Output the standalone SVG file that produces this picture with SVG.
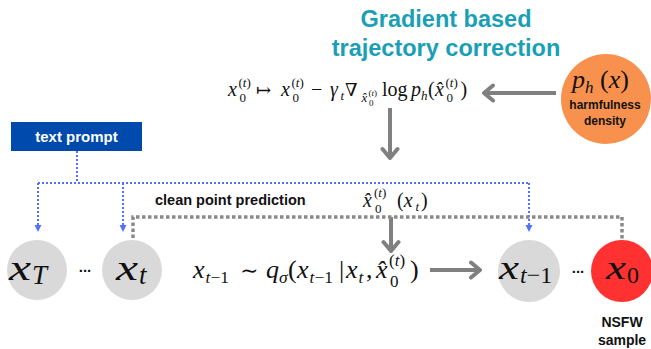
<svg xmlns="http://www.w3.org/2000/svg" width="651" height="349" viewBox="0 0 651 349">
<defs>
<style>
.mi{font-family:"Liberation Serif","Times New Roman",serif;font-style:italic;fill:#111}
.mu{font-family:"Liberation Serif","Times New Roman",serif;fill:#111}
.sym{font-family:"DejaVu Serif",serif;fill:#111}
.lb{font-family:"Liberation Sans",Arial,sans-serif;font-weight:bold}
.title{font-family:"Liberation Sans",Arial,sans-serif;font-weight:bold;font-size:23.5px;fill:#1a9fb6;text-anchor:middle}
.gray{fill:#d9d9d9}
.ga{fill:none;stroke:#808080;stroke-width:4}
.bd{fill:none;stroke:#5271ff;stroke-width:2;stroke-dasharray:2 2}
.gd{fill:none;stroke:#8a8a8a;stroke-width:3.5;stroke-dasharray:3.5 2.5}
</style>
<marker id="gh" markerUnits="userSpaceOnUse" viewBox="-13 -10 16 20" refX="0" refY="0" markerWidth="16" markerHeight="20" orient="auto">
<path d="M-9,-7.5 L0,0 L-9,7.5" fill="none" stroke="#808080" stroke-width="4" stroke-linecap="round" stroke-linejoin="round"/>
</marker>
<marker id="bh" markerUnits="userSpaceOnUse" viewBox="0 -4 7 8" refX="6" refY="0" markerWidth="7" markerHeight="8" orient="auto">
<path d="M0,-3.5 L7,0 L0,3.5 z" fill="#5271ff"/>
</marker>
</defs>
<rect width="651" height="349" fill="#fff"/>

<g id="title">
<text class="title" x="446" y="27">Gradient based</text>
<text class="title" x="446" y="56">trajectory correction</text>
</g>

<g id="connectors">
<path class="ga" d="M556,93 H484" marker-end="url(#gh)"/>
<path class="ga" d="M390,108 V158" marker-end="url(#gh)"/>
<path class="ga" d="M391,217 V251" marker-end="url(#gh)"/>
<path class="ga" d="M430,270 H480" marker-end="url(#gh)"/>
<path class="bd" d="M77,151 V183"/>
<path class="bd" d="M38,183 H529"/>
<path class="bd" d="M38,183 V231" marker-end="url(#bh)"/>
<path class="bd" d="M123,183 V231" marker-end="url(#bh)"/>
<path class="bd" d="M529,183 V231" marker-end="url(#bh)"/>
<path class="gd" d="M133,238 V217 H622 V240"/>
</g>

<g id="update-formula">
<text class="mi" x="228" y="96" font-size="20">x</text>
<text class="mu" x="238.5" y="87" font-size="13">(<tspan class="mi">t</tspan>)</text>
<text class="mu" x="239.5" y="102" font-size="13">0</text>
<text class="sym" x="256" y="96" font-size="18">↦</text>
<text class="mi" x="281" y="96" font-size="20">x</text>
<text class="mu" x="291.5" y="87" font-size="13">(<tspan class="mi">t</tspan>)</text>
<text class="mu" x="292.5" y="102" font-size="13">0</text>
<text class="mu" x="311" y="96" font-size="20">−</text>
<text class="mi" x="330" y="96" font-size="20">γ</text>
<text class="mi" x="340.5" y="100" font-size="13">t</text>
<text class="sym" x="345" y="96" font-size="18">∇</text>
<text class="mi" x="361.5" y="102" font-size="13">x̂</text>
<text class="mu" x="368.5" y="96" font-size="9">(<tspan class="mi">t</tspan>)</text>
<text class="mu" x="369" y="106" font-size="9">0</text>
<text class="mu" x="382" y="96" font-size="20">log</text>
<text class="mi" x="411" y="96" font-size="20">p</text>
<text class="mi" x="421" y="100" font-size="13">h</text>
<text class="mu" x="428" y="96" font-size="20">(</text>
<text class="mi" x="435" y="96" font-size="20">x̂</text>
<text class="mu" x="445.5" y="87" font-size="13">(<tspan class="mi">t</tspan>)</text>
<text class="mu" x="446.5" y="102" font-size="13">0</text>
<text class="mu" x="460.5" y="96" font-size="20">)</text>
</g>

<g id="harm-density">
<circle cx="606" cy="99" r="45" fill="#f7914d"/>
<text class="mi" x="572" y="88" font-size="26">p</text>
<text class="mi" x="585" y="93" font-size="17">h</text>
<text class="mu" x="600" y="88" font-size="26">(<tspan class="mi">x</tspan>)</text>
<text class="lb" x="605" y="109" font-size="12" text-anchor="middle" fill="#111">harmfulness</text>
<text class="lb" x="605" y="125" font-size="12" text-anchor="middle" fill="#111">density</text>
</g>

<g id="text-prompt">
<rect x="11" y="122" width="131" height="29" fill="#004aad"/>
<text class="lb" x="76.5" y="141.5" font-size="15" text-anchor="middle" fill="#fff">text prompt</text>
</g>

<g id="clean-label">
<text class="lb" x="155" y="205" font-size="14.5" fill="#111">clean point prediction</text>
<text class="mi" x="363" y="207" font-size="20">x̂</text>
<text class="mu" x="374" y="197" font-size="13">(<tspan class="mi">t</tspan>)</text>
<text class="mu" x="375" y="213" font-size="13">0</text>
<text class="mu" x="397" y="207" font-size="20">(<tspan class="mi">x</tspan></text>
<text class="mi" x="415.5" y="211" font-size="13">t</text>
<text class="mu" x="421" y="207" font-size="20">)</text>
</g>

<g id="sample-formula">
<text class="mi" x="193" y="278" font-size="26">x</text>
<text class="mu" x="205.5" y="283" font-size="17.5"><tspan class="mi">t</tspan>−1</text>
<text class="sym" x="240" y="278" font-size="22">∼</text>
<text class="mi" x="266" y="278" font-size="26">q</text>
<text class="mi" x="279" y="283" font-size="17.5">σ</text>
<text class="mu" x="288" y="278" font-size="26">(</text>
<text class="mi" x="297" y="278" font-size="26">x</text>
<text class="mu" x="309.5" y="283" font-size="17.5"><tspan class="mi">t</tspan>−1</text>
<text class="mu" x="339" y="278" font-size="26">|</text>
<text class="mi" x="346" y="278" font-size="26">x</text>
<text class="mi" x="358.5" y="283" font-size="17.5">t</text>
<text class="mu" x="366" y="278" font-size="26">,</text>
<text class="mi" x="376" y="278" font-size="26">x̂</text>
<text class="mu" x="389" y="266" font-size="17">(<tspan class="mi">t</tspan>)</text>
<text class="mu" x="390" y="287" font-size="17">0</text>
<text class="mu" x="410" y="278" font-size="26">)</text>
</g>

<g id="node-xT">
<circle class="gray" cx="37" cy="270" r="30"/>
<text class="mi" x="9" y="280" font-size="36" textLength="22" lengthAdjust="spacingAndGlyphs">x</text>
<text class="mi" x="32" y="284" font-size="27">T</text>
</g>
<text class="lb" x="85" y="272" font-size="15" text-anchor="middle" fill="#111">...</text>
<g id="node-xt">
<circle class="gray" cx="132" cy="270" r="30"/>
<text class="mi" x="116" y="280" font-size="36" textLength="22" lengthAdjust="spacingAndGlyphs">x</text>
<text class="mi" x="139" y="284" font-size="27">t</text>
</g>
<g id="node-xt1">
<circle class="gray" cx="529" cy="271" r="31"/>
<text class="mi" x="499" y="279" font-size="34" textLength="20" lengthAdjust="spacingAndGlyphs">x</text>
<text class="mu" x="520" y="283" font-size="24"><tspan class="mi">t</tspan>−1</text>
</g>
<text class="lb" x="578" y="273" font-size="15" text-anchor="middle" fill="#111">...</text>
<g id="node-x0">
<circle cx="622" cy="271" r="31" fill="#ff3131"/>
<text class="mi" x="606" y="279" font-size="34" textLength="20" lengthAdjust="spacingAndGlyphs">x</text>
<text class="mu" x="627" y="283" font-size="24">0</text>
<text class="lb" x="622" y="327" font-size="14" text-anchor="middle" fill="#111">NSFW</text>
<text class="lb" x="622" y="345" font-size="14" text-anchor="middle" fill="#111">sample</text>
</g>
</svg>
